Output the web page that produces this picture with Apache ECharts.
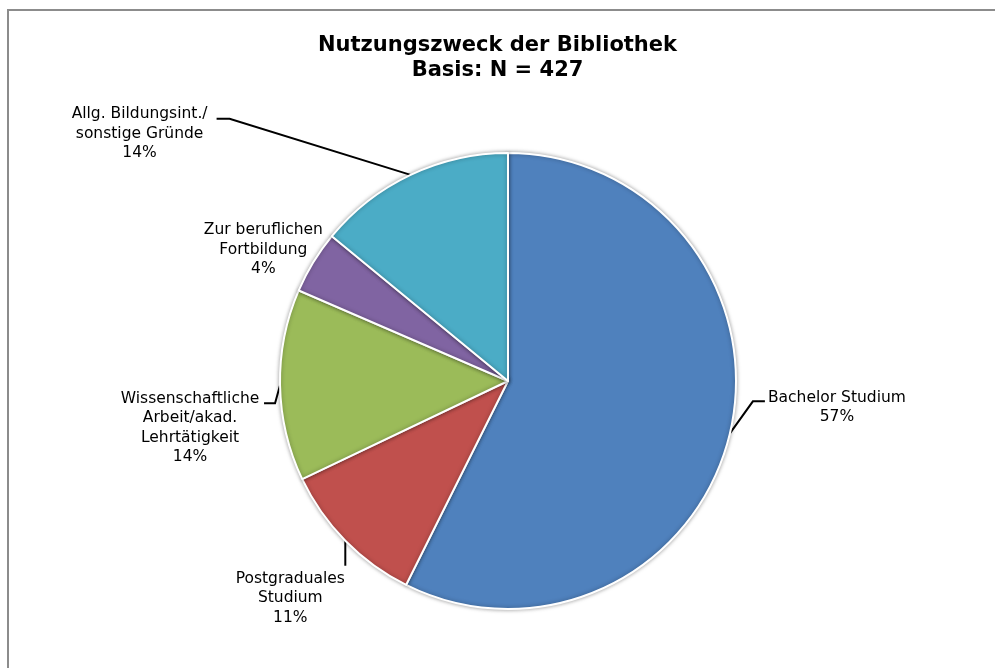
<!DOCTYPE html>
<html>
<head>
<meta charset="utf-8">
<script src="https://cdn.jsdelivr.net/npm/echarts@6/dist/echarts.min.js"></script>
<style>
  html, body { margin: 0; padding: 0; background: #fff; }
  #frame { position: absolute; left: 7px; top: 9px; width: 1000px; height: 670px;
           border-left: 2px solid #8c8c8c; border-top: 2px solid #8c8c8c; }
  #chart { position: absolute; left: 0; top: 0; width: 995px; height: 668px; }
</style>
</head>
<body>
<div id="frame"></div>
<div id="chart"></div>
<script>
  var categories = [
    "Bachelor Studium",
    "Postgraduales\nStudium",
    "Wissenschaftliche\nArbeit/akad.\nLehrtätigkeit",
    "Zur beruflichen\nFortbildung",
    "Allg. Bildungsint./\nsonstige Gründe"
  ];
  // counts of N = 427
  var counts = [245, 45, 58, 19, 60];
  var colors = ["#4F81BD", "#C0504D", "#9BBB59", "#8064A2", "#4BACC6"];

  // label placement relative to the slice's edge point:
  // elbow, line end and label centre offsets (Excel-like callouts)
  var callouts = [
    { elbow: [23, -32], end: [35, -32], label: [107, -26] },
    { elbow: [0, 25], end: [0, 25], label: [-55, 57.5] },
    { elbow: [-5, 18], end: [-16, 18], label: [-90, 43] },
    { elbow: [0, 0], end: [0, 0], label: [-50, -12.5] },
    { elbow: [-181, -56], end: [-194, -56], label: [-271, -41] }
  ];

  var chart = echarts.init(document.getElementById("chart"));

  var data = categories.map(function (name, i) {
    return { name: name, value: counts[i], itemStyle: { color: colors[i] } };
  });

  var option = {
    animation: false,
    title: {
      text: "Nutzungszweck der Bibliothek\nBasis: N = 427",
      left: "center",
      top: 28,
      textStyle: {
        fontFamily: "DejaVu Sans",
        fontWeight: "bold",
        fontSize: 21,
        lineHeight: 25,
        color: "#000"
      }
    },
    series: [{
      type: "pie",
      center: [508, 381],
      radius: 228,
      startAngle: 90,
      clockwise: true,
      avoidLabelOverlap: false,
      itemStyle: {
        borderColor: "#fff",
        borderWidth: 2,
        shadowBlur: 4,
        shadowColor: "rgba(0,0,0,0.35)"
      },
      label: {
        show: true,
        position: "outside",
        fontFamily: "DejaVu Sans",
        fontSize: 15.5,
        lineHeight: 19.5,
        color: "#000",
        align: "center",
        formatter: function (p) {
          return p.name + "\n" + Math.round(p.percent) + "%";
        }
      },
      labelLine: {
        show: true,
        length: 18,
        length2: 10,
        lineStyle: { color: "#000", width: 2 }
      },
      labelLayout: function (params) {
        var c = callouts[params.dataIndex];
        var p0 = params.labelLinePoints[0];
        return {
          x: p0[0] + c.label[0],
          y: p0[1] + c.label[1],
          align: "center",
          verticalAlign: "middle",
          labelLinePoints: [
            p0,
            [p0[0] + c.elbow[0], p0[1] + c.elbow[1]],
            [p0[0] + c.end[0], p0[1] + c.end[1]]
          ]
        };
      },
      data: data
    }]
  };

  chart.setOption(option);
</script>
</body>
</html>
